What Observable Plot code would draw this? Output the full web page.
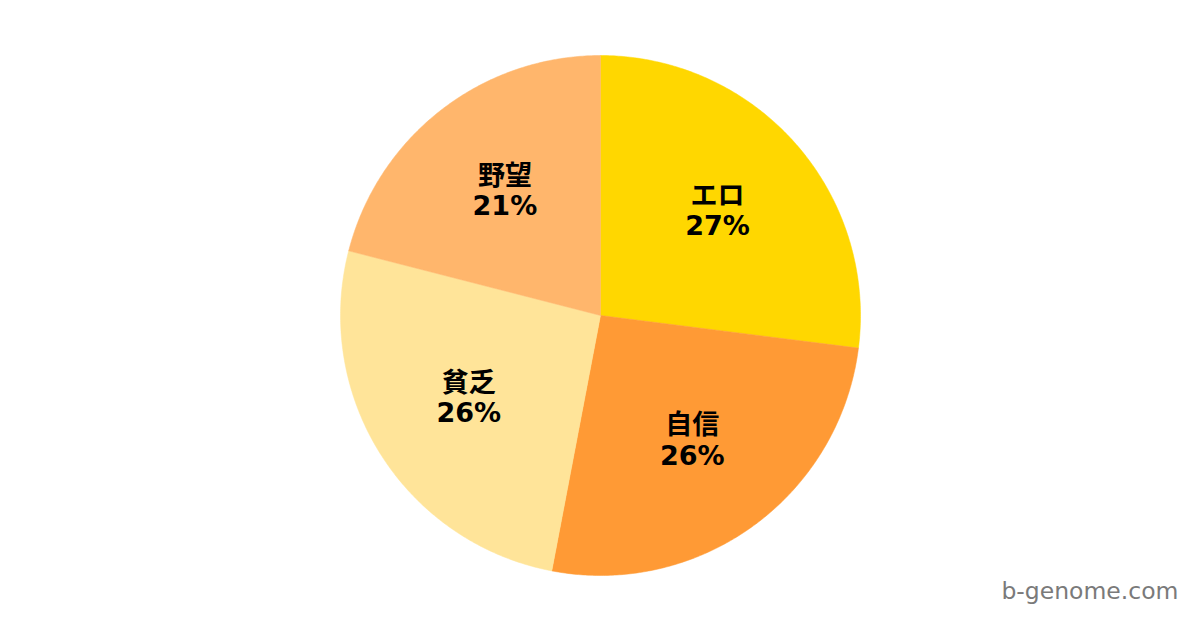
<!DOCTYPE html>
<html>
<head>
<meta charset="utf-8">
<script src="https://cdn.jsdelivr.net/npm/d3@7"></script>
<script src="https://cdn.jsdelivr.net/npm/@observablehq/plot@0.6"></script>
<style>
  html, body { margin: 0; padding: 0; background: #fff; }
  #chart svg { display: block; }
</style>
</head>
<body>
<div id="chart"></div>
<script>
// Share of each category (percent), drawn clockwise from 12 o'clock
const categories = ["エロ", "自信", "貧乏", "野望"];
const shares = [27, 26, 26, 21];
const colors = ["#FFD700", "#FF9A35", "#FFE499", "#FFB66C"];
const watermark = "b-genome.com";

const W = 1200, H = 630;
const cx = 600, cy = 315, R = 260;   // pie centre and radius, in pixels
const labelR = 0.6 * R;

const rows = categories.map((name, i) => ({name, value: shares[i]}));
const arcs = d3.pie().value(d => d.value).sort(null)(rows);

// Outline of each wedge: centre, arc sampled along the circle, back to centre
const toXY = (a, r) => [cx + r * Math.sin(a), cy - r * Math.cos(a)];
const outline = arcs.flatMap(a => {
  const pts = [{name: a.data.name, p: [cx, cy]}];
  const n = Math.max(2, Math.ceil((a.endAngle - a.startAngle) / (Math.PI / 360)));
  for (let k = 0; k <= n; k++) {
    const t = a.startAngle + (a.endAngle - a.startAngle) * k / n;
    pts.push({name: a.data.name, p: toXY(t, R)});
  }
  pts.push({name: a.data.name, p: [cx, cy]});
  return pts;
});

const labels = arcs.map(a => {
  const [x, y] = toXY((a.startAngle + a.endAngle) / 2, labelR);
  return {x, y, text: `${a.data.name}\n${a.data.value}%`};
});

const chart = Plot.plot({
  width: W,
  height: H,
  margin: 0,
  x: {domain: [0, W], axis: null},
  y: {domain: [H, 0], axis: null},
  color: {domain: categories, range: colors},
  style: {background: "#fff"},
  marks: [
    Plot.line(outline, {
      x: d => d.p[0], y: d => d.p[1], z: "name",
      fill: "name", stroke: "name", strokeWidth: 0.5
    }),
    Plot.text(labels, {
      x: "x", y: "y", text: "text", dy: -2,
      fontSize: 27, fontWeight: "bold", lineHeight: 1.12,
      fill: "#000",
      fontFamily: "'DejaVu Sans', 'Noto Sans CJK JP', sans-serif"
    }),
    Plot.text([watermark], {
      frameAnchor: "bottom-right", dx: -22, dy: -32,
      text: d => d, fontSize: 23.5, fill: "#7a7a7a",
      fontFamily: "'DejaVu Sans', sans-serif"
    })
  ]
});

document.getElementById("chart").append(chart);
</script>
</body>
</html>
